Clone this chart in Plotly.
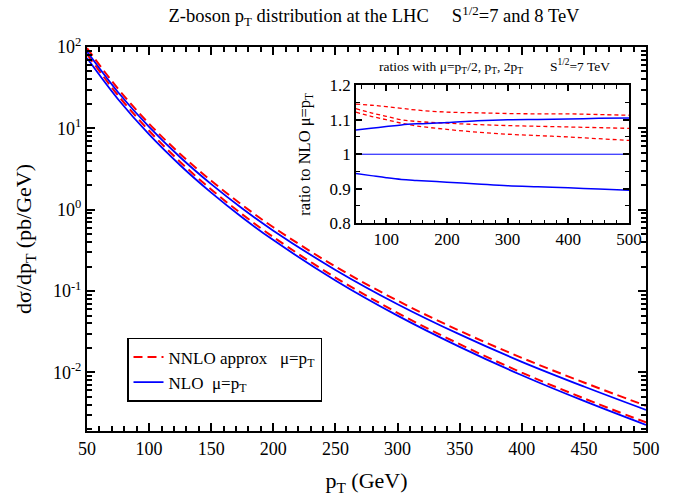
import plotly.graph_objects as go

# transverse momentum grid (GeV)
pt = [50, 75, 100, 125, 150, 175, 200, 250, 300, 350, 400, 450, 500]

# d sigma / d pT (pb/GeV), mu = pT
nnlo_8tev = [96.7, 30.6, 11.4, 4.85, 2.27, 1.14, 0.608, 0.200, 0.0762, 0.0325, 0.0151, 0.00752, 0.00389]
nlo_8tev = [87.9, 27.8, 10.4, 4.41, 2.06, 1.035, 0.553, 0.182, 0.0690, 0.0293, 0.0135, 0.00671, 0.00346]
nnlo_7tev = [81.9, 25.4, 9.34, 3.87, 1.77, 0.877, 0.461, 0.1466, 0.0540, 0.02225, 0.00995, 0.0048, 0.00243]
nlo_7tev = [73.1, 22.8, 8.41, 3.52, 1.62, 0.802, 0.423, 0.135, 0.0499, 0.0206, 0.00923, 0.00446, 0.00226]

# ratios to NLO with mu = pT at 7 TeV
pt_ratio = [50, 75, 100, 125, 150, 200, 250, 300, 350, 400, 450, 500]
ratio_nnlo_a = [1.145, 1.142, 1.138, 1.133, 1.128, 1.122, 1.120, 1.118, 1.117, 1.117, 1.115, 1.113]
ratio_nnlo_b = [1.132, 1.120, 1.110, 1.100, 1.095, 1.090, 1.086, 1.083, 1.081, 1.079, 1.077, 1.075]
ratio_nnlo_c = [1.122, 1.110, 1.100, 1.090, 1.082, 1.072, 1.064, 1.058, 1.054, 1.050, 1.045, 1.040]
ratio_nlo_half = [1.070, 1.075, 1.080, 1.085, 1.088, 1.092, 1.097, 1.100, 1.101, 1.102, 1.104, 1.105]
ratio_nlo_double = [0.944, 0.938, 0.932, 0.927, 0.924, 0.919, 0.914, 0.909, 0.906, 0.903, 0.899, 0.896]
ratio_unity = [1.0] * len(pt_ratio)

x_ticks = [50, 100, 150, 200, 250, 300, 350, 400, 450, 500]
y_tick_vals = [0.01, 0.1, 1, 10, 100]
y_tick_text = ["10<sup>-2</sup>", "10<sup>-1</sup>", "10<sup>0</sup>", "10<sup>1</sup>", "10<sup>2</sup>"]
inset_x_ticks = [100, 200, 300, 400, 500]
inset_y_ticks = [0.8, 0.9, 1.0, 1.1, 1.2]
inset_y_text = ["0.8", "0.9", "1", "1.1", "1.2"]

RED = "#ff0000"
BLUE = "#0000ff"
FONT = "Liberation Serif"
NB = "\u00a0"

fig = go.Figure()

dash = "9px,5px"
for ys, show in [(nnlo_8tev, True), (nnlo_7tev, False)]:
    fig.add_trace(go.Scatter(
        x=pt, y=ys, mode="lines", line=dict(color=RED, width=2, dash=dash, shape="spline"),
        name="NNLO approx" + NB * 3 + "μ=p<sub>T</sub>", legendgroup="nnlo", showlegend=show,
    ))
for ys, show in [(nlo_8tev, True), (nlo_7tev, False)]:
    fig.add_trace(go.Scatter(
        x=pt, y=ys, mode="lines", line=dict(color=BLUE, width=1.8, shape="spline"),
        name="NLO" + NB * 2 + "μ=p<sub>T</sub>", legendgroup="nlo", showlegend=show,
    ))

# inset: scale ratios
for ys in [ratio_nnlo_a, ratio_nnlo_b, ratio_nnlo_c]:
    fig.add_trace(go.Scatter(
        x=pt_ratio, y=ys, mode="lines", xaxis="x2", yaxis="y2", showlegend=False,
        line=dict(color=RED, width=1.3, dash="4px,3px", shape="spline"),
    ))
for ys in [ratio_nlo_half, ratio_nlo_double]:
    fig.add_trace(go.Scatter(
        x=pt_ratio, y=ys, mode="lines", xaxis="x2", yaxis="y2", showlegend=False,
        line=dict(color=BLUE, width=1.5, shape="spline"),
    ))
fig.add_trace(go.Scatter(
    x=pt_ratio, y=ratio_unity, mode="lines", xaxis="x2", yaxis="y2", showlegend=False,
    line=dict(color=BLUE, width=1),
))


def frame_axis(**kw):
    """Framed axis with inside ticks mirrored onto the opposite edge."""
    base = dict(showgrid=False, zeroline=False, showline=True, linecolor="black",
                ticks="inside", tickcolor="black", mirror="allticks", layer="above traces")
    base.update(kw)
    return base


fig.update_layout(
    width=686, height=501,
    margin=dict(l=87, r=40, t=47, b=62),
    plot_bgcolor="white",
    font=dict(family=FONT, size=18, color="black"),
    title=dict(
        text="Z-boson p<sub>T</sub> distribution at the LHC" + NB * 5 + "S<sup>1/2</sup>=7 and 8 TeV",
        x=374 / 686, xanchor="center", y=1 - 16 / 501, yanchor="middle",
        font=dict(family=FONT, size=18.5, color="black"),
    ),
    xaxis=frame_axis(
        range=[50, 500], linewidth=2,
        tickvals=x_ticks, ticklen=8, tickwidth=2,
        minor=dict(dtick=10, ticks="inside", ticklen=5, tickcolor="black", tickwidth=1.6),
        title=dict(text="p<sub>T</sub> (GeV)", font=dict(family=FONT, size=22)),
        tickfont=dict(family=FONT, size=18),
    ),
    yaxis=frame_axis(
        type="log", range=[-2.72, 2], linewidth=2,
        tickvals=y_tick_vals, ticktext=y_tick_text, ticklen=8, tickwidth=2,
        minor=dict(dtick="D1", ticks="inside", ticklen=5, tickcolor="black", tickwidth=1.6),
        title=dict(text="dσ/dp<sub>T</sub> (pb/GeV)", font=dict(family=FONT, size=22)),
        tickfont=dict(family=FONT, size=18),
    ),
    xaxis2=frame_axis(
        anchor="y2", domain=[0.481, 0.9696], range=[50, 500], linewidth=1.5,
        tickvals=inset_x_ticks, ticklen=6, tickwidth=1.6,
        minor=dict(dtick=20, ticks="inside", ticklen=4, tickcolor="black", tickwidth=1.3),
        tickfont=dict(family=FONT, size=17),
    ),
    yaxis2=frame_axis(
        anchor="x2", domain=[0.541, 0.9005], range=[0.8, 1.2], linewidth=1.5,
        tickvals=inset_y_ticks, ticktext=inset_y_text, ticklen=6, tickwidth=1.6,
        minor=dict(dtick=0.05, ticks="inside", ticklen=4, tickcolor="black", tickwidth=1.3),
        title=dict(text="ratio to NLO μ=p<sub>T</sub>", font=dict(family=FONT, size=16.5)),
        tickfont=dict(family=FONT, size=17),
    ),
    legend=dict(
        x=(127 - 87) / 559, y=(439 - 344) / 392, xanchor="left", yanchor="top",
        bgcolor="white", bordercolor="black", borderwidth=1.5,
        font=dict(family=FONT, size=17), tracegroupgap=0, itemwidth=30,
    ),
    showlegend=True,
)

fig.add_annotation(
    text="ratios with μ=p<sub>T</sub>/2, p<sub>T</sub>, 2p<sub>T</sub>" + NB * 8 + "S<sup>1/2</sup>=7 TeV",
    xref="paper", yref="paper", x=(494 - 87) / 559, y=(439 - 67) / 392,
    xanchor="center", yanchor="middle", showarrow=False,
    font=dict(family=FONT, size=13.5, color="black"),
)

fig.write_html("out.html")
